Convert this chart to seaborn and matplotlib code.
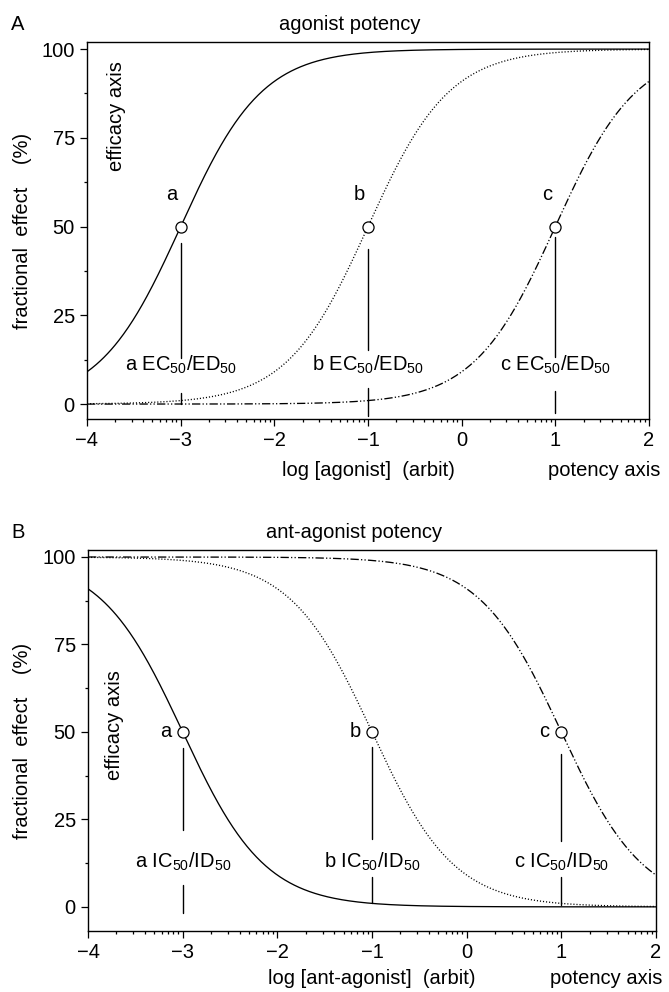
import numpy as np
import pandas as pd
import matplotlib
matplotlib.use("Agg")
import matplotlib.pyplot as plt
from matplotlib.ticker import FixedLocator
import seaborn as sns

# ---------------- data ----------------
curve_names = ["a", "b", "c"]
log_ec50 = [-3.0, -1.0, 1.0]          # log EC50 / IC50 (arbit)
hill_slope = 1.0
top_effect = 100.0
x_range = (-4.0, 2.0)

y_ticks = [0, 25, 50, 75, 100]
x_ticks = [-4, -3, -2, -1, 0, 1, 2]

# vertical marker segments (upper, lower) in %
agonist_upper = [(45.5, 13.0), (43.8, 15.3), (47.0, 13.3)]
agonist_lower = [(3.0, 0.0), (4.5, -3.4), (3.7, -2.5)]
antag_upper = [(45.4, 22.1), (45.7, 19.3), (43.7, 18.7)]
antag_lower = [(6.3, -1.7), (8.6, 1.1), (8.6, 0.6)]

agonist_labels = [f"{n} EC$_{{50}}$/ED$_{{50}}$" for n in curve_names]
antag_labels = [f"{n} IC$_{{50}}$/ID$_{{50}}$" for n in curve_names]

# ---------------- style ----------------
sns.set_style("ticks")
plt.rcParams["font.family"] = ["Liberation Sans", "DejaVu Sans"]
plt.rcParams["mathtext.fontset"] = "custom"
plt.rcParams["mathtext.rm"] = "Liberation Sans"
plt.rcParams["mathtext.it"] = "Liberation Sans:italic"
plt.rcParams["mathtext.bf"] = "Liberation Sans:bold"
plt.rcParams["lines.scale_dashes"] = False
plt.rcParams["axes.edgecolor"] = "black"
plt.rcParams["axes.linewidth"] = 1.0
plt.rcParams["text.color"] = "black"
plt.rcParams["axes.labelcolor"] = "black"
plt.rcParams["xtick.color"] = "black"
plt.rcParams["ytick.color"] = "black"

FS = 14.5
dashes = {"a": "", "b": (0.8, 1.4), "c": (6.0, 1.6, 0.9, 1.6, 0.9, 1.6)}

xs = np.linspace(x_range[0], x_range[1], 601)
rows = []
for name, e50 in zip(curve_names, log_ec50):
    ag = top_effect / (1.0 + 10.0 ** (-(xs - e50) * hill_slope))
    an = top_effect / (1.0 + 10.0 ** ((xs - e50) * hill_slope))
    for xv, a1, a2 in zip(xs, ag, an):
        rows.append((name, xv, a1, a2))
df = pd.DataFrame(rows, columns=["curve", "logconc", "agonist", "antagonist"])

fig = plt.figure(figsize=(6.69, 9.92), dpi=100)
axA = fig.add_axes([87 / 669, 1 - 419 / 992, 562 / 669, 377 / 992])
axB = fig.add_axes([88 / 669, 1 - 931 / 992, 568 / 669, 381 / 992])

minor_x = [d + np.log10(k) for d in range(-4, 2) for k in range(2, 10)]
minor_y = [12.5, 37.5, 62.5, 87.5]


def style_axes(ax, ylim):
    ax.set_xlim(*x_range)
    ax.set_ylim(*ylim)
    ax.xaxis.set_major_locator(FixedLocator(x_ticks))
    ax.xaxis.set_minor_locator(FixedLocator(minor_x))
    ax.yaxis.set_major_locator(FixedLocator(y_ticks))
    ax.yaxis.set_minor_locator(FixedLocator(minor_y))
    ax.tick_params(which="major", direction="out", length=4.8, width=0.9,
                   labelsize=14.5, colors="black", pad=4)
    ax.tick_params(which="minor", direction="out", length=2.5, width=0.9,
                   colors="black")
    ax.tick_params(top=False, right=False, which="both")
    for s in ax.spines.values():
        s.set_visible(True)
        s.set_linewidth(1.0)
        s.set_color("black")
    ax.set_xticklabels([f"{t}".replace("-", "\u2212") for t in x_ticks])


def draw_panel(ax, ycol, upper, lower, labels, label_y, letter_dx, letter_dy,
               ylim, xlab, text_right, label_off):
    sns.lineplot(data=df, x="logconc", y=ycol, style="curve", dashes=dashes,
                 color="black", linewidth=0.95, legend=False, ax=ax,
                 estimator=None, sort=False)
    style_axes(ax, ylim)
    for i, (name, e50) in enumerate(zip(curve_names, log_ec50)):
        ax.plot([e50, e50], list(upper[i]), color="black", lw=1.0)
        ax.plot([e50, e50], list(lower[i]), color="black", lw=1.0)
        ax.plot([e50], [50], marker="o", ms=8, mfc="white", mec="black",
                mew=0.9, zorder=5, ls="none")
        ax.text(e50 + letter_dx, 50 + letter_dy, name, ha="center",
                va="center", fontsize=FS)
        ax.text(e50, label_y, labels[i], ha="center", va="baseline",
                fontsize=FS)
    ax.set_xlabel(xlab, fontsize=FS)
    ax.xaxis.label.set_va("center")
    ax.xaxis.set_label_coords(0.5, label_off)
    ax.set_ylabel("fractional  effect    (%)", fontsize=FS)
    ax.yaxis.label.set_va("center")
    ax.text(text_right, label_off, "potency axis", transform=ax.transAxes,
            ha="right", va="center", fontsize=FS)


draw_panel(axA, "agonist", agonist_upper, agonist_lower, agonist_labels,
           9.3, -0.09, 9.0, (-4.2, 102.0), "log [agonist]  (arbit)", 1.021,
           -51 / 377)
axA.yaxis.set_label_coords(-64 / 562, 0.5)
axA.text(-3.68, 81, "efficacy axis", rotation=90, ha="center", va="center",
         fontsize=FS)

draw_panel(axB, "antagonist", antag_upper, antag_lower, antag_labels,
           11.2, -0.18, 0.0, (-6.9, 102.0), "log [ant-agonist]  (arbit)",
           1.0106, -48 / 381)
axB.yaxis.set_label_coords(-65 / 568, 0.5)
axB.text(-3.72, 52, "efficacy axis", rotation=90, ha="center", va="center",
         fontsize=FS)

fig.text(350 / 669, 1 - 25 / 992, "agonist potency", ha="center", va="center",
         fontsize=FS)
fig.text(18 / 669, 1 - 25 / 992, "A", ha="center", va="center", fontsize=FS)
fig.text(354 / 669, 1 - 533 / 992, "ant-agonist potency", ha="center",
         va="center", fontsize=FS)
fig.text(18 / 669, 1 - 532 / 992, "B", ha="center", va="center", fontsize=FS)

fig.savefig("out.png", dpi=100, facecolor="white")
